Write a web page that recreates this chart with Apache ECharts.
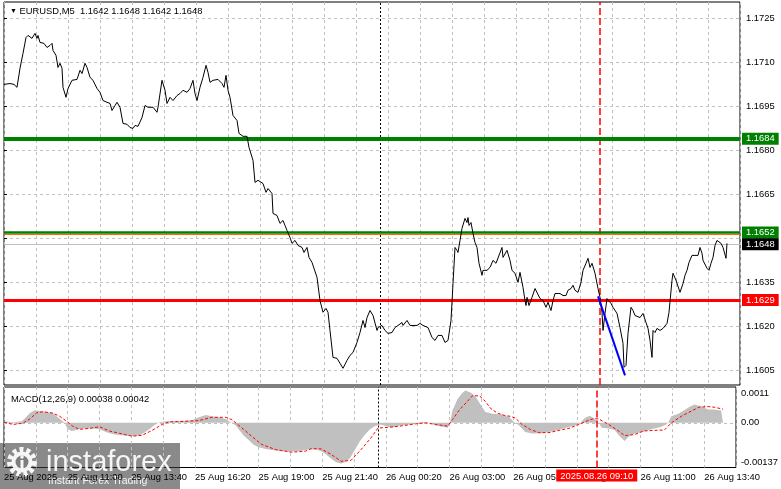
<!DOCTYPE html>
<html><head><meta charset="utf-8">
<script src="https://cdn.jsdelivr.net/npm/echarts@6/dist/echarts.min.js"></script>
<style>html,body{margin:0;padding:0;background:#fff}#c{width:781px;height:489px}</style>
</head><body><div id="c"></div>
<script>
// ---------- DATA ----------
const symbolTitle = 'EURUSD,M5  1.1642 1.1648 1.1642 1.1648';
const macdTitle = 'MACD(12,26,9) 0.00038 0.00042';
const priceTicks = [1.1605, 1.1620, 1.1635, 1.1650, 1.1665, 1.1680, 1.1695, 1.1710, 1.1725];
const timeLabelBars = [0, 32, 64, 96, 128, 160, 192, 224, 256, 288, 320, 352];
const timeLabels = ['25 Aug 2025', '25 Aug 11:00', '25 Aug 13:40', '25 Aug 16:20', '25 Aug 19:00', '25 Aug 21:40',
  '26 Aug 00:20', '26 Aug 03:00', '26 Aug 05:40', '26 Aug 08:20', '26 Aug 11:00', '26 Aug 13:40'];
const dayBreakBar = 188;
const markerBar = 298;
const markerLabel = '2025.08.26 09:10';
const levelPrices = [1.1684, 1.1652, 1.16515, 1.1648, 1.1629];
const levelTexts = ['1.1684', '1.1652', '', '1.1648', '1.1629'];
const macdLabelTexts = ['0.0011', '0.00', '-0.00137'];
// close price path: [bar, price]
const priceLine = [
[0,1.17025],[3,1.17028],[5,1.17025],[6.5,1.17015],[8,1.17080],[9.5,1.17131],[11,1.17185],[12,1.17192],[14,1.17182],[15.5,1.17199],
[16.5,1.17182],[17,1.17192],[18,1.17168],[19,1.17165],[20,1.17165],[21.5,1.17151],[23,1.17158],[24,1.17165],[24.5,1.17141],[26,1.17124],
[27,1.17083],[28,1.17097],[29,1.17080],[29.5,1.17015],[31,1.16981],[32,1.17011],[34,1.17039],[36.5,1.17042],[38,1.17073],[39,1.17062],
[40.5,1.17097],[41.5,1.17083],[43,1.17049],[44.5,1.17039],[46.5,1.17011],[48,1.16998],[49.5,1.16970],[51.5,1.16964],[53,1.16960],[54,1.16936],
[55.5,1.16953],[56.5,1.16964],[58,1.16947],[59.5,1.16892],[61.5,1.16889],[63,1.16878],[64.5,1.16875],[65.5,1.16885],[67,1.16882],[69,1.16912],
[70.5,1.16953],[72,1.16947],[74.5,1.16947],[76.5,1.16930],[77,1.16947],[79,1.17039],[80.5,1.17005],[81.5,1.16960],[83,1.16981],[84.5,1.16970],
[86.5,1.16987],[88,1.16994],[89.5,1.17005],[91.5,1.16998],[93,1.17011],[94.5,1.17039],[95.5,1.16994],[96.5,1.16970],[98,1.17015],[99.5,1.17049],
[101,1.17090],[102,1.17066],[103,1.17032],[104.5,1.17039],[107,1.17042],[109,1.17028],[110,1.17015],[111,1.17056],[112,1.17005],[113,1.16981],
[114.5,1.16919],[116.5,1.16902],[117.5,1.16858],[119.5,1.16848],[121.5,1.16848],[122.5,1.16810],[124.5,1.16766],[125.5,1.16691],[127,1.16698],[129.5,1.16687],
[131,1.16657],[132,1.16670],[134,1.16653],[134.5,1.16585],[136.5,1.16578],[138,1.16551],[139.5,1.16561],[140.5,1.16544],[141.5,1.16527],[143,1.16503],
[144,1.16483],[145.5,1.16493],[147,1.16476],[149,1.16469],[150,1.16452],[151.5,1.16469],[152.5,1.16435],[154,1.16418],[155,1.16415],[156.5,1.16367],
[158,1.16288],[159.5,1.16248],[161,1.16261],[162,1.16248],[163,1.16186],[164.5,1.16094],[166.5,1.16091],[168,1.16074],[169.5,1.16057],[171.5,1.16084],
[173,1.16101],[174.5,1.16111],[176.5,1.16145],[178,1.16179],[179.5,1.16220],[180.5,1.16196],[181.5,1.16230],[183,1.16254],[184.5,1.16237],[186.5,1.16186],
[187,1.16196],[189,1.16203],[190.5,1.16186],[192,1.16176],[194,1.16179],[195.5,1.16196],[197,1.16203],[199,1.16213],[199.5,1.16203],[201.5,1.16220],
[203,1.16203],[206.5,1.16203],[208,1.16210],[209.5,1.16203],[212,1.16196],[214,1.16162],[215.5,1.16152],[217,1.16169],[219,1.16169],[220.5,1.16145],
[222,1.16152],[223.5,1.16220],[224.5,1.16346],[225.5,1.16469],[226.5,1.16459],[227,1.16452],[228,1.16493],[229,1.16534],[230.5,1.16568],[231.5,1.16554],
[232,1.16571],[232.5,1.16544],[233.5,1.16554],[234.5,1.16517],[235.5,1.16486],[236.5,1.16469],[237.5,1.16415],[239,1.16374],[239.5,1.16391],[241.5,1.16391],
[243,1.16401],[244.5,1.16425],[246,1.16415],[247,1.16418],[249,1.16469],[249.5,1.16435],[251.5,1.16459],[253,1.16425],[254,1.16391],[255.5,1.16381],
[257,1.16350],[258,1.16384],[259.5,1.16333],[260.5,1.16288],[261,1.16271],[261.5,1.16299],[262.5,1.16271],[264,1.16299],[265.5,1.16329],[266.5,1.16323],
[268,1.16295],[269.5,1.16288],[271,1.16265],[272,1.16282],[273.5,1.16254],[274.5,1.16288],[275.5,1.16312],[278,1.16312],[279.5,1.16305],[281,1.16305],
[282,1.16323],[283.5,1.16329],[284.5,1.16340],[285.5,1.16323],[287,1.16316],[288.5,1.16350],[289.5,1.16391],[291,1.16415],[292,1.16432],[293,1.16401],
[294,1.16415],[294.5,1.16418],[295.5,1.16381],[297,1.16329],[298,1.16299],[299,1.16248],[299.5,1.16186],[300.5,1.16244],[301.5,1.16295],[302,1.16299],
[303.5,1.16278],[304.5,1.16265],[306.5,1.16244],[308,1.16196],[309.5,1.16142],[310,1.16060],[311,1.16067],[312,1.16176],[313.5,1.16265],[314.5,1.16254],
[315.5,1.16237],[318,1.16230],[319.5,1.16244],[321,1.16213],[322,1.16193],[323,1.16152],[324,1.16094],[324.5,1.16186],[325.5,1.16179],[326.5,1.16193],
[328,1.16186],[329.5,1.16193],[331.5,1.16210],[332.5,1.16248],[334,1.16357],[334.5,1.16381],[336,1.16357],[337,1.16363],[338,1.16316],[339.5,1.16346],
[340.5,1.16374],[341.5,1.16391],[342.5,1.16418],[344,1.16442],[347,1.16442],[348,1.16469],[349,1.16449],[349.5,1.16425],[351.5,1.16398],[352.5,1.16391],
[353.5,1.16415],[354.5,1.16435],[355.5,1.16476],[356.5,1.16493],[358.5,1.16483],[359.5,1.16469],[361,1.16432],[361.5,1.16483]
];
// drawn trend segment: [bar, price]
const trendSegment = [[297,1.16302],[310.5,1.16033]];
// MACD histogram: [bar, value]
const macdHist = [
[0,0.00005],[4.5,0.00002],[9,0.00005],[11.5,0.0002],[13,0.0003],[15.5,0.00039],[18,0.00036],[21.5,0.00033],[24.5,0.0003],[26.5,0.0002],
[29,0.00007],[30.5,0],[32,-0.0002],[34,-0.00025],[36.5,-0.00022],[39.5,-0.00017],[44.5,-0.00017],[48,-0.0002],[51.5,-0.00029],[55.5,-0.00036],
[60.5,-0.00039],[64.5,-0.00041],[68,-0.00039],[70.5,-0.0003],[73,-0.0002],[75.5,-0.00007],[78,0.00002],[81.5,0.00005],[88,0.00005],[94.5,0.00008],
[98,0.00017],[101.5,0.00024],[104.5,0.0002],[108,0.00017],[111.5,0.00012],[113,0.00005],[114.5,0],[116.5,-0.00008],[118,-0.0002],[120.5,-0.00039],
[123,-0.00053],[125.5,-0.00067],[128,-0.00075],[131.5,-0.0008],[136.5,-0.00085],[143,-0.00089],[148,-0.00087],[153,-0.00082],[157,-0.00082],[159.5,-0.00087],
[162,-0.00097],[164.5,-0.0011],[167,-0.00121],[169.5,-0.00125],[171.5,-0.00121],[174,-0.00108],[176.5,-0.00082],[179,-0.00056],[181.5,-0.00036],[184,-0.0002],
[186.5,-0.0001],[189.5,-0.00005],[193,-0.00012],[195.5,-0.00014],[199,-0.00008],[204,-0.00005],[207,0],[210.5,0.00003],[214,0],[217,-0.00008],
[220.5,-0.00012],[223,-0.00015],[224,-0.00005],[225.5,0.00039],[228,0.00073],[230.5,0.00092],[232,0.00099],[234.5,0.00093],[237,0.00082],[239.5,0.00056],
[242,0.00033],[245.5,0.00028],[250.5,0.00026],[254,0.00018],[256.5,0.00002],[259,-0.00008],[262,-0.00028],[265.5,-0.00033],[270.5,-0.00032],[277,-0.00024],
[284,-0.00013],[289,-0.00005],[292,0.00015],[294.5,0.00022],[297,0.00012],[299,0],[300.5,-0.00015],[304,-0.00017],[307,-0.00022],[309.5,-0.00041],
[312,-0.00056],[314,-0.00043],[317,-0.00033],[320.5,-0.00029],[325.5,-0.0002],[330.5,-0.00012],[333,-0.00005],[334,0.00002],[335.5,0.0002],[339,0.00028],
[342,0.00039],[344.5,0.00049],[347,0.00056],[350.5,0.00051],[354,0.00041],[357,0.00041],[360.5,0.00038],[361.5,0.00038]
];
// MACD signal line: [bar, value]
const macdSignal = [
[0,0.00002],[4.5,-0.00005],[9.5,-0.00001],[13,0.00012],[16.5,0.00031],[19.5,0.00034],[24.5,0.0003],[28,0.0002],[31.5,0.00005],[34.5,-0.0001],
[38,-0.0002],[43,-0.00017],[48,-0.00012],[53,-0.00025],[58,-0.00032],[64.5,-0.00041],[69.5,-0.00038],[74.5,-0.00023],[79.5,-0.00005],[83,0.00003],
[91.5,0.00005],[98,0.00007],[104.5,0.00017],[111.5,0.00017],[114.5,0.0001],[119.5,-0.00015],[124.5,-0.00041],[129.5,-0.00066],[136.5,-0.00082],[144.5,-0.0009],
[151.5,-0.00087],[154.5,-0.00079],[159.5,-0.0008],[164.5,-0.00097],[169.5,-0.00118],[174.5,-0.00115],[179.5,-0.00082],[184.5,-0.00046],[188,-0.00016],[193,-0.00014],
[199,-0.0001],[207,-0.00003],[212,0],[217,-0.00005],[223,-0.0001],[225.5,0.0001],[229,0.0004],[233,0.00066],[235.5,0.00083],[239,0.00083],
[242,0.00066],[244.5,0.00045],[248,0.0003],[251.5,0.00023],[254.5,0.0002],[257,0.00015],[260.5,-0.00005],[264.5,-0.0002],[269,-0.0003],[274,-0.0003],
[279,-0.00023],[284,-0.00017],[289,-0.00005],[294,0.00008],[296.5,0.00013],[299,0.00012],[304,-0.00005],[309,-0.00025],[312,-0.00039],[317,-0.00036],
[321.5,-0.00025],[327,-0.00023],[332,-0.00022],[335.5,0],[340.5,0.0002],[345.5,0.00036],[349.5,0.00048],[354,0.0005],[357,0.00048],[361.5,0.00042]
];

// ---------- STYLE / LAYOUT ----------
const FONT = 'Liberation Sans, Arial, sans-serif';
const FS = 9.4;
const X_MIN = 0, X_MAX = 368;
const gridLine = {show: true, lineStyle: {color: '#c0c0c0', type: [3, 3], width: 1}};
const macdLabelPos = [0.0009, 0, -0.0012]; // where the three scale texts sit inside the panel
const levelStyles = [
  {color: '#008000', width: 4, bg: '#008000'},
  {color: '#008000', width: 2.5, bg: '#008000'},
  {color: '#ff6a00', width: 1, bg: null},
  {color: '#c0c0c0', width: 1, bg: '#000000'},
  {color: '#ff0000', width: 3, bg: '#ff0000'}
];

const levelLines = levelPrices.map((p, i) => [
  {coord: [X_MIN, p],
   lineStyle: {color: levelStyles[i].color, width: levelStyles[i].width, type: 'solid'},
   label: levelTexts[i] ? {
     show: true, position: 'end', distance: 2, formatter: levelTexts[i],
     color: '#fff', backgroundColor: levelStyles[i].bg, padding: [1, 4, 0, 4],
     fontSize: FS, fontFamily: FONT, lineHeight: 11
   } : {show: false}},
  {coord: [X_MAX, p]}
]);

const vLines = (withLabel) => [
  {xAxis: dayBreakBar, lineStyle: {color: '#000', width: 1, type: [2, 2]}, label: {show: false}},
  {xAxis: markerBar, lineStyle: {color: '#ff0000', width: 1.5, type: [7, 3]},
    label: withLabel ? {show: true, position: 'start', distance: 2, formatter: markerLabel,
      color: '#fff', backgroundColor: '#ff0000', padding: [2, 4, 1, 4], fontSize: FS, fontFamily: FONT} : {show: false}}
];

const chart = echarts.init(document.getElementById('c'), null, {renderer: 'canvas'});
chart.setOption({
  animation: false,
  backgroundColor: '#fff',
  textStyle: {fontFamily: FONT},
  title: [
    {text: '{t|▼} ' + symbolTitle, left: 5, top: 2,
      textStyle: {fontSize: FS, fontWeight: 'normal', color: '#000', fontFamily: FONT,
        rich: {t: {fontSize: 7, color: '#000'}}}},
    {text: macdTitle, left: 6, top: 390,
      textStyle: {fontSize: FS, fontWeight: 'normal', color: '#000', fontFamily: FONT}}
  ],
  grid: [
    {left: 4, right: 41, top: 2, height: 383, show: true, borderColor: '#000', borderWidth: 1, backgroundColor: 'transparent'},
    {left: 4, right: 41, top: 387, height: 80.5, show: true, borderColor: '#000', borderWidth: 1, backgroundColor: 'transparent'}
  ],
  xAxis: [
    {type: 'value', gridIndex: 0, min: X_MIN, max: X_MAX, interval: 16,
      axisLine: {show: false}, axisTick: {show: false}, axisLabel: {show: false}, splitLine: gridLine},
    {type: 'value', gridIndex: 1, min: X_MIN, max: X_MAX, interval: 16,
      axisLine: {show: false}, axisTick: {show: false}, splitLine: gridLine,
      axisLabel: {show: true, customValues: timeLabelBars, align: 'left', margin: 5,
        color: '#000', fontSize: FS, fontFamily: FONT,
        formatter: v => { const i = timeLabelBars.indexOf(v); return i >= 0 ? timeLabels[i] : ''; }}}
  ],
  yAxis: [
    {type: 'value', gridIndex: 0, position: 'right', min: 1.1600, max: 1.17306,
      axisLine: {show: false},
      axisTick: {show: true, customValues: priceTicks, length: 3, lineStyle: {color: '#000'}},
      axisLabel: {show: true, customValues: priceTicks, margin: 6, color: '#000', fontSize: FS, fontFamily: FONT,
        formatter: v => v.toFixed(4)},
      splitLine: gridLine},
    {type: 'value', gridIndex: 1, position: 'right', min: -0.00137, max: 0.0011,
      axisLine: {show: false},
      axisTick: {show: false, customValues: [0]},
      axisLabel: {show: true, customValues: macdLabelPos, margin: 5, color: '#000', fontSize: FS, fontFamily: FONT,
        formatter: v => { const i = macdLabelPos.indexOf(v); return i >= 0 ? macdLabelTexts[i] : ''; }},
      splitLine: gridLine}
  ],
  series: [
    {type: 'line', xAxisIndex: 0, yAxisIndex: 0, data: priceLine, symbol: 'none', z: 5,
      lineStyle: {color: '#000', width: 1}, silent: true,
      markLine: {symbol: ['none', 'none'], silent: true, animation: false, z: 3,
        data: vLines(false)}},
    {type: 'line', xAxisIndex: 0, yAxisIndex: 0, data: [], symbol: 'none', z: 3, silent: true,
      markLine: {symbol: ['none', 'none'], silent: true, animation: false, z: 3, data: levelLines}},
    {type: 'line', xAxisIndex: 0, yAxisIndex: 0, data: trendSegment, symbol: 'none', z: 6,
      lineStyle: {color: '#0000ff', width: 2}, silent: true},
    {type: 'line', xAxisIndex: 1, yAxisIndex: 1, data: macdHist, symbol: 'none', z: 3,
      lineStyle: {width: 0}, areaStyle: {color: '#c0c0c0', opacity: 1}, silent: true,
      markLine: {symbol: ['none', 'none'], silent: true, animation: false, z: 4, data: vLines(true)}},
    {type: 'line', xAxisIndex: 1, yAxisIndex: 1, data: macdSignal, symbol: 'none', z: 5,
      lineStyle: {color: '#ff0000', width: 1, type: [3, 2]}, silent: true}
  ],
  graphic: [
    {type: 'group', x: 0, y: 443, z: 100, silent: true, children: [
      {type: 'rect', shape: {x: 0, y: 0, width: 180, height: 46}, style: {fill: 'rgba(60,60,60,0.6)'}},
      {type: 'circle', shape: {cx: 22, cy: 19, r: 12.5}, style: {fill: 'none', stroke: 'rgba(255,255,255,0.92)', lineWidth: 5, lineDash: [4, 3]}},
      {type: 'circle', shape: {cx: 22, cy: 19, r: 10.5}, style: {fill: 'rgba(255,255,255,0.92)'}},
      {type: 'circle', shape: {cx: 22, cy: 19, r: 6.5}, style: {fill: 'rgb(125,125,125)'}},
      {type: 'rect', shape: {x: 20.5, y: 17, width: 3, height: 9}, style: {fill: 'rgba(255,255,255,0.92)'}},
      {type: 'circle', shape: {cx: 22, cy: 14, r: 1.8}, style: {fill: 'rgba(255,255,255,0.92)'}},
      {type: 'text', x: 46, y: 20, style: {text: 'instaforex', fontSize: 29, fontFamily: FONT,
        fill: 'rgba(255,255,255,0.92)', verticalAlign: 'middle', align: 'left'}},
      {type: 'text', x: 48, y: 38, style: {text: 'Instant Forex Trading', fontSize: 10.5, fontFamily: FONT,
        fill: 'rgba(255,255,255,0.92)', verticalAlign: 'middle', align: 'left'}}
    ]}
  ]
});
</script>
</body></html>
